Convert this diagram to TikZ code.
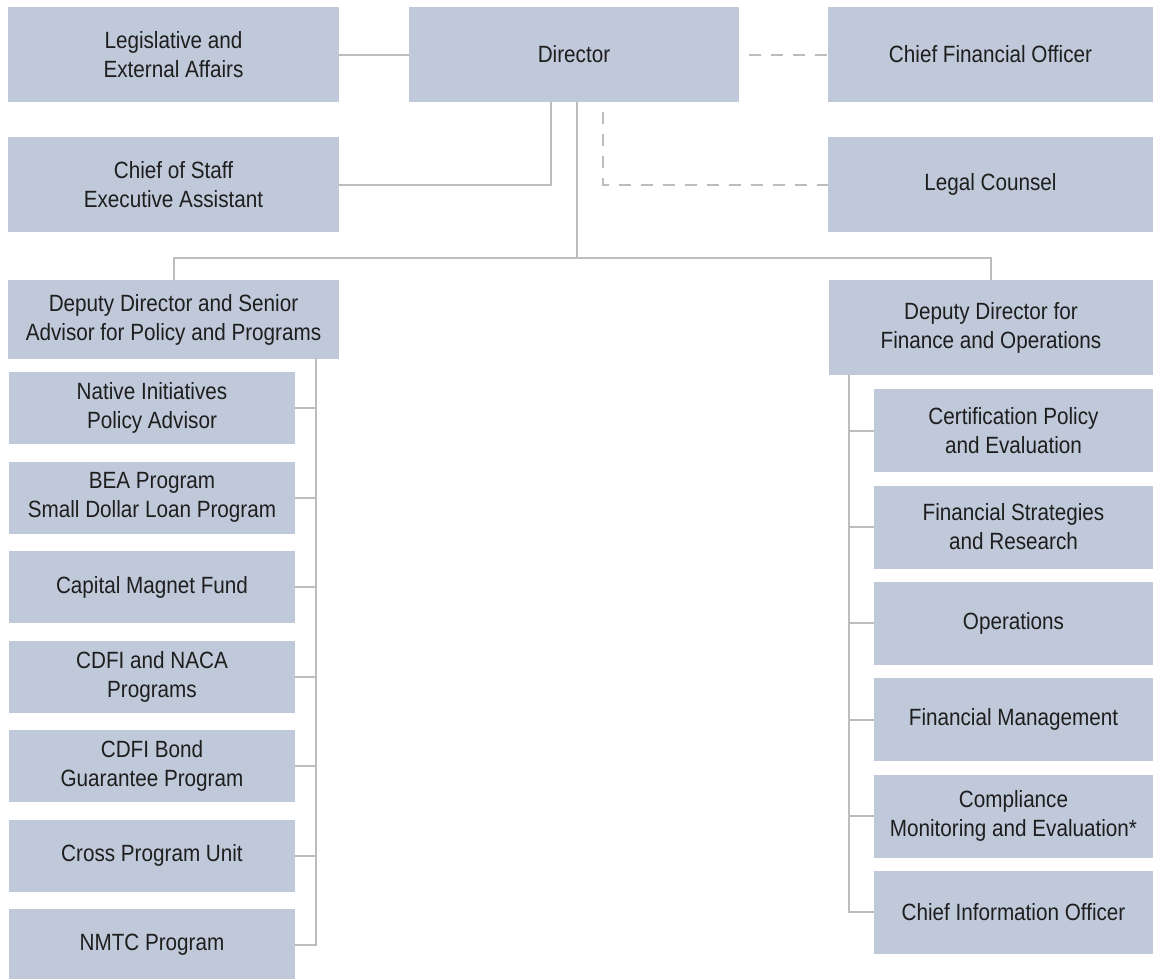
\documentclass[tikz,border=0pt]{standalone}
\usepackage{fontspec}
\setmainfont{Liberation Sans}[FakeStretch=0.88]
\usetikzlibrary{calc}
\definecolor{unitfill}{HTML}{BFC9DA}
\definecolor{wire}{HTML}{BDBDBD}
\definecolor{ink}{HTML}{1E1E1E}

\begin{document}
\begin{tikzpicture}[x=1pt,y=-1pt,font=\fontsize{23.5pt}{29pt}\selectfont,
  unit/.style={fill=unitfill,text=ink,inner sep=0pt,align=center},
  topunit/.style={unit,minimum width=331pt,minimum height=95pt},
  lsub/.style={unit,minimum width=286pt,minimum height=72pt},
  rsub/.style={unit,minimum width=279pt,minimum height=83pt},
  conn/.style={wire,line width=2pt},
  dashline/.style={wire,line width=2pt,dash pattern=on 12pt off 10pt,dash phase=12pt}]
  \useasboundingbox (0,0) rectangle (1153,978);

  % top rows
  \node[topunit] (leg) at (173.5,54.5) {Legislative and\\External Affairs};
  \node[topunit,minimum width=330pt] (dir) at (574,54.5) {Director};
  \node[topunit,minimum width=325pt] (cfo) at (990.5,54.5) {Chief Financial Officer};
  \node[topunit] (cos) at (173.5,184.5) {Chief of Staff\\Executive Assistant};
  \node[topunit,minimum width=325pt] (legal) at (990.5,184.5) {Legal Counsel};

  % deputies
  \node[topunit,minimum height=79pt] (ddpp) at (173.5,319.5) {Deputy Director and Senior\\Advisor for Policy and Programs};
  \node[topunit,minimum width=324pt] (ddfo) at (991,327.5) {Deputy Director for\\Finance and Operations};

  % policy and programs units
  \node[lsub] (native) at (152,408) {Native Initiatives\\Policy Advisor};
  \node[lsub] (bea) at (152,497.5) {BEA Program\\Small Dollar Loan Program};
  \node[lsub] (cmf) at (152,587) {Capital Magnet Fund};
  \node[lsub] (naca) at (152,676.5) {CDFI and NACA\\Programs};
  \node[lsub] (bond) at (152,766) {CDFI Bond\\Guarantee Program};
  \node[lsub] (cross) at (152,855.5) {Cross Program Unit};
  \node[lsub] (nmtc) at (152,945) {NMTC Program};

  % finance and operations units
  \node[rsub] (cert) at (1013.5,430.5) {Certification Policy\\and Evaluation};
  \node[rsub] (strat) at (1013.5,527) {Financial Strategies\\and Research};
  \node[rsub] (ops) at (1013.5,623) {Operations};
  \node[rsub] (fin) at (1013.5,719.5) {Financial Management};
  \node[rsub] (comp) at (1013.5,816) {Compliance\\Monitoring and Evaluation*};
  \node[rsub] (cio) at (1013.5,912) {Chief Information Officer};

  % connectors
  \coordinate (bus) at (577,258);
  \coordinate (lspine) at (316,359);
  \coordinate (rspine) at (849,375);
  \draw[conn] (leg) -- (dir);
  \draw[dashline] (dir) -- (cfo);
  \draw[conn] (cos.east) -| ([xshift=-23pt]dir.south);
  \draw[dashline] ([xshift=29pt]dir.south) |- (legal.west);
  \draw[conn] (dir.south -| bus) -- (bus);
  \draw[conn] (ddpp.north) |- (bus) -| (ddfo.north);

  \draw[conn] (lspine) |- (nmtc.east);
  \draw[conn] (native.east) -- (native.east -| lspine);
  \draw[conn] (bea.east) -- (bea.east -| lspine);
  \draw[conn] (cmf.east) -- (cmf.east -| lspine);
  \draw[conn] (naca.east) -- (naca.east -| lspine);
  \draw[conn] (bond.east) -- (bond.east -| lspine);
  \draw[conn] (cross.east) -- (cross.east -| lspine);

  \draw[conn] (rspine) |- (cio.west);
  \draw[conn] (cert.west) -- (cert.west -| rspine);
  \draw[conn] (strat.west) -- (strat.west -| rspine);
  \draw[conn] (ops.west) -- (ops.west -| rspine);
  \draw[conn] (fin.west) -- (fin.west -| rspine);
  \draw[conn] (comp.west) -- (comp.west -| rspine);
\end{tikzpicture}
\end{document}
